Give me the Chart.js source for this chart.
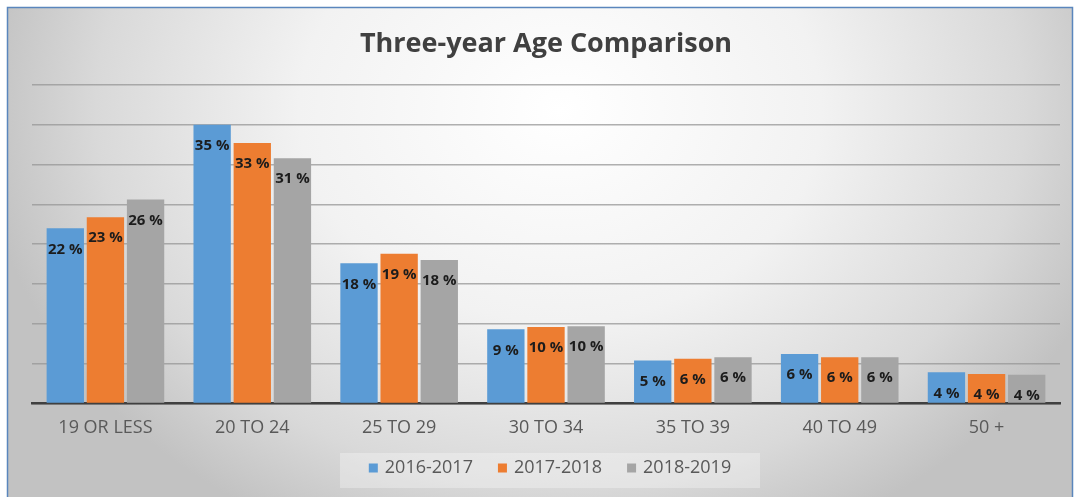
<!DOCTYPE html>
<html>
<head>
<meta charset="utf-8">
<script src="https://cdn.jsdelivr.net/npm/chart.js@4/dist/chart.umd.min.js"></script>
<style>
  html, body { margin: 0; padding: 0; background: #ffffff; }
  #wrap { width: 1076px; height: 497px; position: relative; }
</style>
</head>
<body>
<div id="wrap"><canvas id="c" width="1076" height="497"></canvas></div>
<script>
const categories = ["19 OR LESS", "20 TO 24", "25 TO 29", "30 TO 34", "35 TO 39", "40 TO 49", "50 +"];
const seriesNames = ["2016-2017", "2017-2018", "2018-2019"];
const values2016 = [22, 35, 17.6, 9.3, 5.4, 6.2, 3.9];
const values2017 = [23.4, 32.7, 18.8, 9.6, 5.6, 5.8, 3.7];
const values2018 = [25.6, 30.8, 18.0, 9.7, 5.8, 5.8, 3.6];
const yTicks = [0, 5, 10, 15, 20, 25, 30, 35, 40];
const colors = ["#5b9bd5", "#ed7d31", "#a5a5a5"];

const bgPlugin = {
  id: 'bg',
  beforeDraw(chart) {
    const ctx = chart.ctx;
    const W = chart.width, H = chart.height;
    ctx.save();
    ctx.fillStyle = '#ffffff';
    ctx.fillRect(0, 0, W, H);
    const cx = 560, cy = 110, rx = 580, ry = 470;
    ctx.save();
    ctx.beginPath();
    ctx.rect(7, 7, 1066, 490);
    ctx.clip();
    ctx.translate(cx, cy);
    ctx.scale(1, ry / rx);
    const g = ctx.createRadialGradient(0, 0, 0, 0, 0, rx);
    g.addColorStop(0, '#ffffff');
    g.addColorStop(0.45, '#f2f2f2');
    g.addColorStop(0.8, '#d9d9d9');
    g.addColorStop(1, '#c2c2c2');
    ctx.fillStyle = g;
    ctx.fillRect(-cx - 10, -cy * rx / ry - 10, W + 20, (H + 20) * rx / ry + 20);
    ctx.restore();
    ctx.strokeStyle = '#5a86bd';
    ctx.lineWidth = 1.5;
    ctx.strokeRect(7.5, 7.5, 1065, 495);
    ctx.restore();
  }
};

const labelPlugin = {
  id: 'barLabels',
  afterDatasetsDraw(chart) {
    const ctx = chart.ctx;
    ctx.save();
    ctx.font = 'bold 15px "Open Sans"';
    ctx.textAlign = 'center';
    ctx.textBaseline = 'middle';
    ctx.fillStyle = '#1c1c1c';
    chart.data.datasets.forEach((ds, di) => {
      const meta = chart.getDatasetMeta(di);
      meta.data.forEach((bar, i) => {
        const v = ds.data[i];
        ctx.fillText(Math.round(v) + ' %', bar.x, bar.y + 21);
      });
    });
    ctx.restore();
  }
};

// legend drawn from the dataset labels/colours
const legendPlugin = {
  id: 'customLegend',
  afterDraw(chart) {
    const ctx = chart.ctx;
    ctx.save();
    ctx.font = '18px "Open Sans"';
    const box = 9, gapBoxText = 7, gapItems = 25;
    const items = chart.data.datasets.map(ds => ({ text: ds.label, color: ds.backgroundColor, w: ctx.measureText(ds.label).width }));
    const total = items.reduce((s, it) => s + box + gapBoxText + it.w, 0) + gapItems * (items.length - 1);
    const cy = 468;
    const centerX = 550;
    ctx.fillStyle = 'rgba(255,255,255,0.3)';
    ctx.fillRect(centerX - 210, cy - 15, 420, 35);
    let x = centerX - total / 2;
    ctx.textBaseline = 'middle';
    ctx.textAlign = 'left';
    items.forEach(it => {
      ctx.fillStyle = it.color;
      ctx.fillRect(x, cy - box / 2, box, box);
      x += box + gapBoxText;
      ctx.fillStyle = '#595959';
      ctx.fillText(it.text, x, cy);
      x += it.w + gapItems;
    });
    ctx.restore();
  }
};

new Chart(document.getElementById('c'), {
  type: 'bar',
  data: {
    labels: categories,
    datasets: [
      { label: seriesNames[0], data: values2016, backgroundColor: colors[0] },
      { label: seriesNames[1], data: values2017, backgroundColor: colors[1] },
      { label: seriesNames[2], data: values2018, backgroundColor: colors[2] }
    ]
  },
  options: {
    responsive: false,
    animation: false,
    devicePixelRatio: 1,
    categoryPercentage: 0.82,
    barPercentage: 0.93,
    layout: { padding: { left: 32, right: 16, top: 0, bottom: 44 } },
    plugins: {
      title: {
        display: true,
        text: 'Three-year Age Comparison',
        color: '#404040',
        font: { family: 'Open Sans', size: 27, weight: 'bold' },
        padding: { top: 27.8, bottom: 24.8 }
      },
      legend: { display: false },
      tooltip: { enabled: false }
    },
    scales: {
      x: {
        grid: { display: false, drawTicks: false },
        border: { display: true, color: '#404040', width: 2.5 },
        ticks: { color: '#595959', font: { family: 'Open Sans', size: 18 }, padding: 14 }
      },
      y: {
        min: 0,
        max: 40,
        afterBuildTicks(scale) { scale.ticks = yTicks.map(v => ({ value: v })); },
        ticks: { display: false },
        grid: { color: 'rgba(150,150,150,0.75)', lineWidth: 1.5, drawTicks: false },
        border: { display: false }
      }
    }
  },
  plugins: [bgPlugin, labelPlugin, legendPlugin]
});
</script>
</body>
</html>
